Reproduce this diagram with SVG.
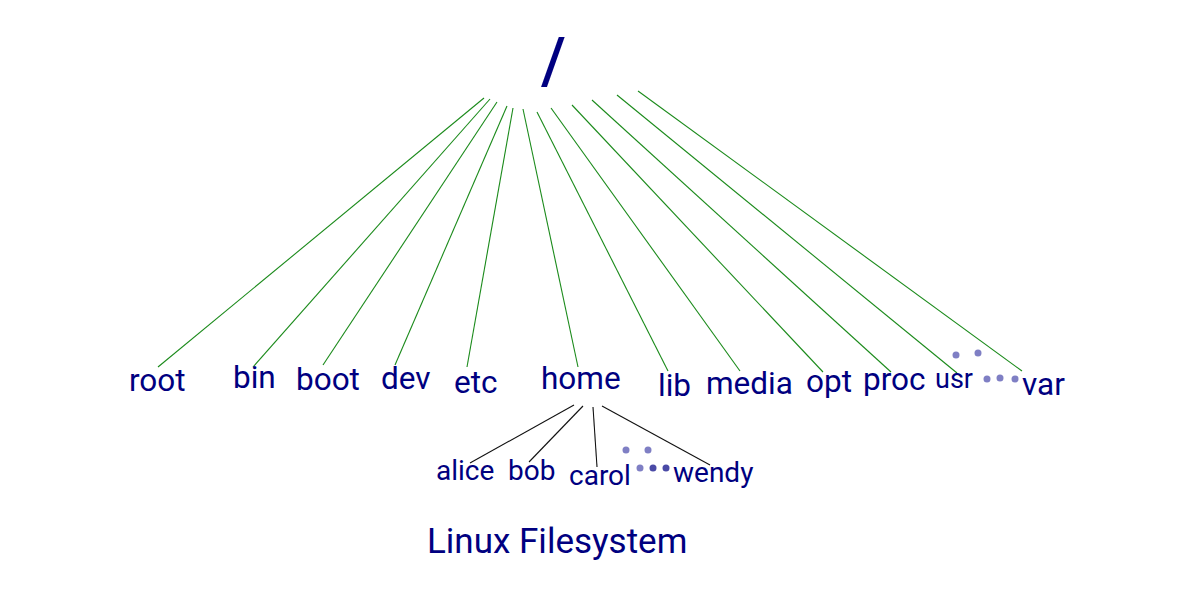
<svg xmlns="http://www.w3.org/2000/svg" width="1200" height="600" viewBox="0 0 1200 600">
<style>
.t{font-family:Roboto,"Liberation Sans",sans-serif;fill:#000080}
.n{font-size:31.5px}
.c{font-size:28px}
.g{stroke:#1a8a1a;stroke-width:1.1;fill:none}
.k{stroke:#111;stroke-width:1.1;fill:none}
.d{fill:#7f7fc4}
.d2{fill:#4a4aa6}
</style>
<rect width="1200" height="600" fill="#fff"/>
<g id="connectors">
<line class="g" x1="484" y1="98" x2="158" y2="367"/>
<line class="g" x1="490" y1="99" x2="253" y2="367"/>
<line class="g" x1="497" y1="102" x2="323" y2="365"/>
<line class="g" x1="507" y1="106" x2="395" y2="365"/>
<line class="g" x1="513" y1="108" x2="467" y2="367"/>
<line class="g" x1="523" y1="109" x2="578" y2="367"/>
<line class="g" x1="537" y1="112" x2="668" y2="371"/>
<line class="g" x1="551" y1="108" x2="740" y2="371"/>
<line class="g" x1="572" y1="105" x2="823" y2="372"/>
<line class="g" x1="592" y1="100" x2="891" y2="372"/>
<line class="g" x1="617" y1="95" x2="957" y2="373"/>
<line class="g" x1="638" y1="91" x2="1022" y2="371"/>
<line class="k" x1="574" y1="405" x2="470" y2="463"/>
<line class="k" x1="583" y1="406" x2="529" y2="462"/>
<line class="k" x1="593" y1="407" x2="597" y2="467"/>
<line class="k" x1="602" y1="406" x2="710" y2="465"/>
</g>
<g id="node-root-dir"><text class="t" x="541" y="83" font-size="64" font-weight="500">/</text></g>
<g id="node-root"><text class="t n" x="129" y="391">root</text></g>
<g id="node-bin"><text class="t n" x="233" y="388">bin</text></g>
<g id="node-boot"><text class="t n" x="296" y="390">boot</text></g>
<g id="node-dev"><text class="t n" x="381" y="389">dev</text></g>
<g id="node-etc"><text class="t n" x="454" y="393">etc</text></g>
<g id="node-home"><text class="t n" x="541" y="389">home</text></g>
<g id="node-lib"><text class="t n" x="658" y="396">lib</text></g>
<g id="node-media"><text class="t n" x="706" y="394">media</text></g>
<g id="node-opt"><text class="t n" x="806" y="392">opt</text></g>
<g id="node-proc"><text class="t n" x="863" y="390">proc</text></g>
<g id="node-usr"><text class="t" x="935" y="388" font-size="27">usr</text>
<circle class="d" cx="956" cy="355" r="3.5"/><circle class="d" cx="978" cy="353" r="3.5"/>
<circle class="d" cx="987" cy="379" r="3.5"/><circle class="d" cx="1000" cy="378" r="3.5"/><circle class="d" cx="1015" cy="379" r="3.5"/></g>
<g id="node-var"><text class="t n" x="1022" y="395">var</text></g>
<g id="node-alice"><text class="t c" x="436" y="480">alice</text></g>
<g id="node-bob"><text class="t c" x="508" y="480">bob</text></g>
<g id="node-carol"><text class="t c" x="569" y="485">carol</text></g>
<g id="node-wendy"><text class="t c" x="673" y="482">wendy</text>
<circle class="d" cx="626" cy="450" r="3.5"/><circle class="d" cx="648" cy="450" r="3.5"/>
<circle class="d" cx="640" cy="468" r="3.5"/><circle class="d2" cx="653" cy="468" r="3.5"/><circle class="d2" cx="666" cy="468" r="3.5"/></g>
<g id="title"><text class="t" x="427" y="553" font-size="35">Linux Filesystem</text></g>
</svg>
